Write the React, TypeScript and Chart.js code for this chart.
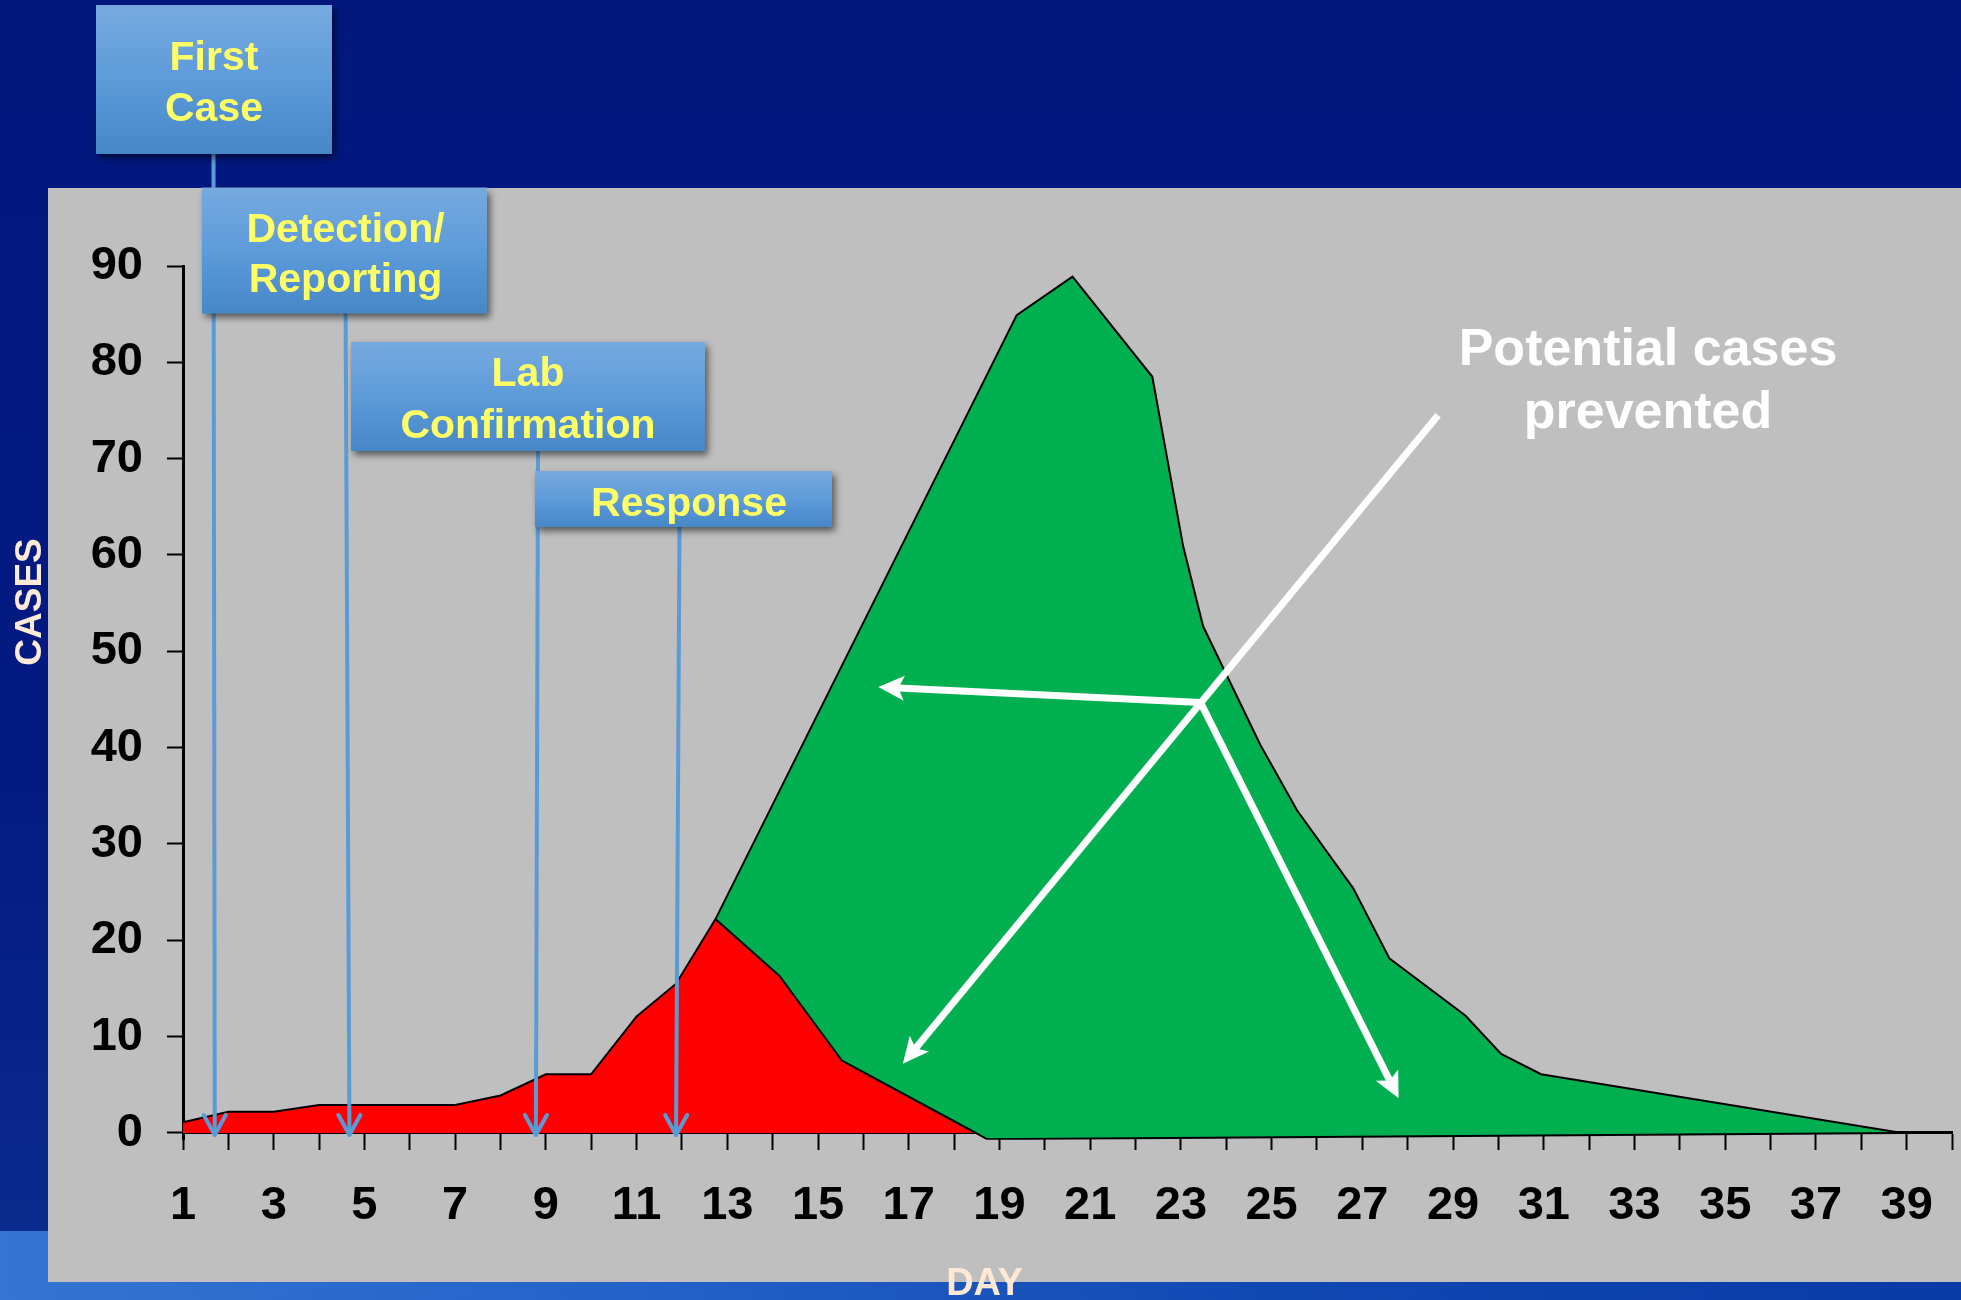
import React, { useEffect, useRef } from 'react';
import { Chart, registerables } from 'chart.js';

Chart.register(...registerables);

// ---------- data ----------
const dayTicks = [1, 2, 3, 4, 5, 6, 7, 8, 9, 10, 11, 12, 13, 14, 15, 16, 17, 18, 19, 20, 21, 22, 23, 24, 25, 26, 27, 28, 29, 30, 31, 32, 33, 34, 35, 36, 37, 38, 39, 40];
const dayTickLabels = ['1', '3', '5', '7', '9', '11', '13', '15', '17', '19', '21', '23', '25', '27', '29', '31', '33', '35', '37', '39'];
const caseTicks = [0, 10, 20, 30, 40, 50, 60, 70, 80, 90];

// actual cases (red)
const redDays = [1, 2, 3, 4, 5, 6, 7, 8, 9, 10, 11, 11.87, 12.74, 14.15, 15.53, 18.48];
const redCases = [1.1, 2.2, 2.2, 2.9, 2.9, 2.9, 2.9, 3.9, 6.1, 6.1, 12.1, 15.5, 22.2, 16.3, 7.5, 0];

// potential cases (green)
const greenDays = [12.74, 19.38, 20.61, 22.37, 23.05, 23.49, 24.75, 25.56, 26.8, 27.6, 29.27, 30.06, 30.94, 38.9];
const greenCases = [22.2, 84.9, 88.9, 78.5, 60.9, 52.6, 40.3, 33.5, 25.4, 18.1, 12.2, 8.2, 6.1, 0];

// lower edge of the green area (dips slightly under the axis)
const floorDays = [18.48, 18.73, 38.9];
const floorCases = [0, -0.65, 0];

// milestone annotations
const eventNames = [['First', 'Case'], ['Detection/', 'Reporting'], ['Lab', 'Confirmation'], ['Response']];
const eventDays = [1.7, 4.67, 8.78, 11.87];

// "potential cases prevented" arrows (data coordinates: day, cases)
const preventedLabel = ['Potential cases', 'prevented'];
const arrowHub = [23.43, 44.7];
const arrowTail = [28.67, 74.5];
const arrowTipDays = [16.87, 16.33, 27.8];
const arrowTipCases = [7.2, 46.3, 3.6];

// ---------- layout / style ----------
const W = 1961;
const H = 1300;
const FONT = "'Liberation Sans', Arial, Helvetica, sans-serif";
const PANEL = { x: 48, y: 188, r: W, b: 1282 };
const BOXES = [
  { x: 96, y: 5, w: 236, h: 149, anchorX: 213.5, textX: 214, baselines: [69.6, 120.7] },
  { x: 202, y: 187.5, w: 285, h: 126, anchorX: 345.6, textX: 345.5, baselines: [241.7, 291.7] },
  { x: 351, y: 342, w: 354, h: 109, anchorX: 538, textX: 528, baselines: [386.4, 437.5] },
  { x: 535, y: 471, w: 297, h: 56, anchorX: 679.5, textX: 689, baselines: [516] },
];

function stealth(ctx: CanvasRenderingContext2D, tx: number, ty: number, fx: number, fy: number) {
  const len = 26, half = 12.5, notch = 6;
  const a = Math.atan2(ty - fy, tx - fx);
  const ux = Math.cos(a), uy = Math.sin(a);
  const px = -uy, py = ux;
  const bx = tx - ux * len, by = ty - uy * len;
  ctx.beginPath();
  ctx.moveTo(tx, ty);
  ctx.lineTo(bx + px * half, by + py * half);
  ctx.lineTo(bx + ux * notch, by + uy * notch);
  ctx.lineTo(bx - px * half, by - py * half);
  ctx.closePath();
  ctx.fill();
  return [bx + ux * notch, by + uy * notch];
}

const overlay = {
  id: 'overlay',
  beforeDraw(chart: any) {
    const ctx = chart.ctx as CanvasRenderingContext2D;
    ctx.save();
    ctx.fillStyle = '#BFBFBF';
    ctx.fillRect(PANEL.x, PANEL.y, PANEL.r - PANEL.x, PANEL.b - PANEL.y);
    ctx.restore();
  },
  afterDraw(chart: any) {
    const ctx = chart.ctx as CanvasRenderingContext2D;
    const xs = chart.scales.x;
    const ys = chart.scales.y;
    const y0 = ys.getPixelForValue(0);

    // blue milestone lines with open arrow heads
    ctx.save();
    ctx.strokeStyle = '#5B9BD5';
    ctx.lineWidth = 4;
    ctx.lineCap = 'round';
    ctx.lineJoin = 'round';
    BOXES.forEach((b, i) => {
      const tx = xs.getPixelForValue(eventDays[i]);
      const ty = y0 + 2;
      const fx = b.anchorX, fy = b.y + b.h;
      ctx.beginPath();
      ctx.moveTo(fx, fy);
      ctx.lineTo(tx, ty);
      ctx.stroke();
      const a = Math.atan2(ty - fy, tx - fx);
      const ux = Math.cos(a), uy = Math.sin(a);
      const px = -uy, py = ux;
      ctx.beginPath();
      ctx.moveTo(tx - ux * 20 + px * 11, ty - uy * 20 + py * 11);
      ctx.lineTo(tx, ty);
      ctx.lineTo(tx - ux * 20 - px * 11, ty - uy * 20 - py * 11);
      ctx.stroke();
    });
    ctx.restore();

    // milestone boxes
    BOXES.forEach((b, i) => {
      ctx.save();
      ctx.shadowColor = 'rgba(0,0,0,0.55)';
      ctx.shadowBlur = 7;
      ctx.shadowOffsetX = 3;
      ctx.shadowOffsetY = 4;
      const g = ctx.createLinearGradient(0, b.y, 0, b.y + b.h);
      g.addColorStop(0, '#77AADF');
      g.addColorStop(0.5, '#5D9BDA');
      g.addColorStop(1, '#4687C8');
      ctx.fillStyle = g;
      ctx.fillRect(b.x, b.y, b.w, b.h);
      ctx.restore();
      ctx.save();
      ctx.fillStyle = '#FFFF66';
      ctx.font = `bold 41px ${FONT}`;
      ctx.textAlign = 'center';
      ctx.textBaseline = 'alphabetic';
      eventNames[i].forEach((t, k) => ctx.fillText(t, b.textX, b.baselines[k]));
      ctx.restore();
    });

    // white "prevented" arrows
    ctx.save();
    ctx.strokeStyle = '#FFFFFF';
    ctx.fillStyle = '#FFFFFF';
    ctx.lineWidth = 7;
    ctx.lineCap = 'butt';
    const hx = xs.getPixelForValue(arrowHub[0]);
    const hy = ys.getPixelForValue(arrowHub[1]);
    const tlx = xs.getPixelForValue(arrowTail[0]);
    const tly = ys.getPixelForValue(arrowTail[1]);
    arrowTipDays.forEach((d, i) => {
      const tx = xs.getPixelForValue(d);
      const ty = ys.getPixelForValue(arrowTipCases[i]);
      const fromX = i === 0 ? tlx : hx;
      const fromY = i === 0 ? tly : hy;
      const [nx, ny] = stealth(ctx, tx, ty, fromX, fromY);
      ctx.beginPath();
      ctx.moveTo(fromX, fromY);
      ctx.lineTo(nx, ny);
      ctx.stroke();
    });
    ctx.restore();

    // texts
    ctx.save();
    ctx.fillStyle = '#FFFFFF';
    ctx.font = `bold 52px ${FONT}`;
    ctx.textAlign = 'center';
    ctx.textBaseline = 'alphabetic';
    ctx.fillText(preventedLabel[0], 1648, 365);
    ctx.fillText(preventedLabel[1], 1648, 428);
    ctx.restore();

    ctx.save();
    ctx.fillStyle = '#FFEAD6';
    ctx.font = `bold 37px ${FONT}`;
    ctx.textAlign = 'center';
    ctx.textBaseline = 'middle';
    ctx.translate(31, 602);
    ctx.rotate(-Math.PI / 2);
    ctx.fillText('CASES', 0, 0);
    ctx.restore();

    ctx.save();
    ctx.fillStyle = '#FFE8D4';
    ctx.font = `bold 38px ${FONT}`;
    ctx.textAlign = 'center';
    ctx.textBaseline = 'alphabetic';
    ctx.fillText('DAY', 984.5, 1295);
    ctx.restore();
  },
};

export default function App() {
  const ref = useRef<HTMLCanvasElement | null>(null);

  useEffect(() => {
    if (!ref.current) return;
    const tickFont = { family: FONT, size: 47, weight: 'bold' as const };
    const chart = new Chart(ref.current, {
      type: 'line',
      data: {
        datasets: [
          {
            label: 'Actual cases',
            data: redDays.map((d, i) => ({ x: d, y: redCases[i] })),
            borderColor: '#000000',
            borderWidth: 2,
            backgroundColor: '#FF0000',
            fill: 'origin',
            pointRadius: 0,
            tension: 0,
            order: 1,
          },
          {
            label: 'Floor',
            data: floorDays.map((d, i) => ({ x: d, y: floorCases[i] })),
            borderColor: '#000000',
            borderWidth: 2,
            backgroundColor: '#00AF50',
            fill: { target: 'origin', above: 'rgba(0,0,0,0)', below: '#00AF50' },
            pointRadius: 0,
            tension: 0,
            order: 2,
          },
          {
            label: 'Potential cases',
            data: greenDays.map((d, i) => ({ x: d, y: greenCases[i] })),
            borderColor: '#000000',
            borderWidth: 2,
            backgroundColor: '#00AF50',
            fill: 'origin',
            pointRadius: 0,
            tension: 0,
            order: 3,
          },
        ],
      },
      options: {
        responsive: false,
        animation: false,
        devicePixelRatio: 1,
        events: [],
        layout: { padding: { left: 0, right: 9, top: 266, bottom: 160.26 } },
        plugins: { legend: { display: false }, tooltip: { enabled: false } },
        scales: {
          x: {
            type: 'linear',
            min: 1,
            max: 40,
            position: { y: 0 } as any,
            afterBuildTicks: (s: any) => {
              s.ticks = dayTicks.map((v) => ({ value: v }));
            },
            afterFit: (s: any) => {
              s.paddingLeft = 0;
              s.paddingRight = 0;
            },
            ticks: {
              autoSkip: false,
              maxRotation: 0,
              minRotation: 0,
              padding: 29,
              color: '#000000',
              font: tickFont,
              callback: (v: any) => (dayTickLabels.includes(String(v)) ? String(v) : ''),
            },
            grid: { drawOnChartArea: false, drawTicks: true, tickLength: 16, tickColor: '#000000', tickWidth: 2 },
            border: { display: true, color: '#000000', width: 3 },
          },
          y: {
            type: 'linear',
            min: -0.7,
            max: 90,
            afterBuildTicks: (s: any) => {
              s.ticks = caseTicks.map((v) => ({ value: v }));
            },
            afterFit: (s: any) => {
              s.width = 183;
            },
            ticks: { padding: 24, color: '#000000', font: tickFont },
            grid: { drawOnChartArea: false, drawTicks: true, tickLength: 16, tickColor: '#000000', tickWidth: 2 },
            border: { display: true, color: '#000000', width: 3 },
          },
        },
      },
      plugins: [overlay],
    });
    return () => chart.destroy();
  }, []);

  return (
    <div
      style={{
        position: 'absolute',
        left: 0,
        top: 0,
        width: W,
        height: H,
        overflow: 'hidden',
        background: 'linear-gradient(180deg, #02187f 0%, #031a83 60%, #0a2a8e 94%, #0c2c90 94.6%)',
      }}
    >
      <div
        style={{
          position: 'absolute',
          left: 0,
          top: 1231,
          width: W,
          height: H - 1231,
          background: 'linear-gradient(90deg, #3474d3 0%, #2464c9 30%, #1048b2 65%, #0a3aa6 100%)',
        }}
      />
      <canvas ref={ref} width={W} height={H} style={{ position: 'absolute', left: 0, top: 0, display: 'block' }} />
    </div>
  );
}
